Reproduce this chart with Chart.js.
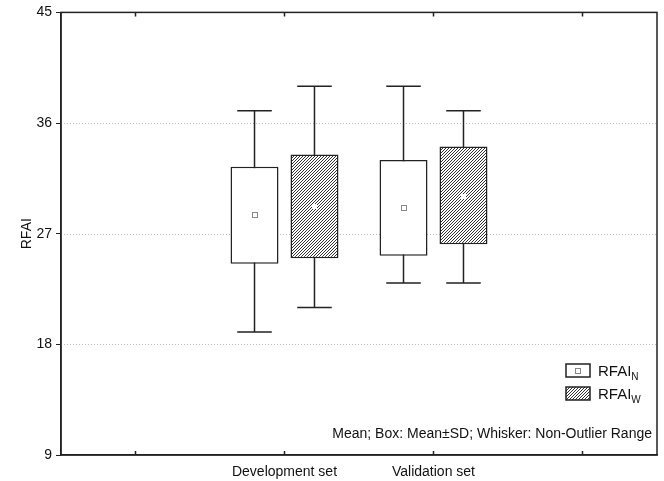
<!DOCTYPE html>
<html>
<head>
<meta charset="utf-8">
<script src="https://cdn.jsdelivr.net/npm/chart.js@4/dist/chart.umd.min.js"></script>
<style>
  body { margin: 0; background: #fff; }
  canvas { display: block; }
</style>
</head>
<body>
<canvas id="rfaiChart" width="664" height="481"></canvas>
<script>
// Data
const categories = ['', 'Development set', 'Validation set', ''];
const yTicks = [9, 18, 27, 36, 45];

// RFAI_N
const meanN = [null, 28.5, 29.1, null];
const boxLowN = [null, 24.55, 25.2, null];
const boxHighN = [null, 32.45, 33.0, null];
const whiskMinN = [null, 19.0, 23.0, null];
const whiskMaxN = [null, 37.0, 39.0, null];

// RFAI_W
const meanW = [null, 29.25, 30.1, null];
const boxLowW = [null, 25.0, 26.15, null];
const boxHighW = [null, 33.45, 34.1, null];
const whiskMinW = [null, 21.0, 23.0, null];
const whiskMaxW = [null, 39.0, 37.0, null];

const lineColor = '#222';
const font = "'Liberation Sans', Arial, sans-serif";

// hatch pattern for the W boxes
function makeHatch() {
    const c = document.createElement('canvas');
    c.width = 3;
    c.height = 3;
    const g = c.getContext('2d');
    g.fillStyle = '#fff';
    g.fillRect(0, 0, 3, 3);
    g.strokeStyle = '#333';
    g.lineWidth = 1;
    g.beginPath();
    g.moveTo(0, 3); g.lineTo(3, 0);
    g.moveTo(-1, 1); g.lineTo(1, -1);
    g.moveTo(2, 4); g.lineTo(4, 2);
    g.stroke();
    return g.createPattern(c, 'repeat');
}
const hatch = makeHatch();

function floating(lows, highs) {
    return lows.map((v, i) => v == null ? null : [v, highs[i]]);
}

const series = [
    { mean: meanN, min: whiskMinN, max: whiskMaxN },
    { mean: meanW, min: whiskMinW, max: whiskMaxW }
];

// dotted grid, whiskers, mean markers, frame, ticks and legend
const boxPlotExtras = {
    id: 'boxPlotExtras',
    beforeDatasetsDraw(chart) {
        const ctx = chart.ctx;
        const y = chart.scales.y;
        const a = chart.chartArea;
        ctx.save();
        // dotted horizontal grid
        ctx.strokeStyle = '#bbb';
        ctx.lineWidth = 1;
        ctx.setLineDash([1, 2]);
        ctx.beginPath();
        yTicks.slice(1, -1).forEach(v => {
            const py = Math.round(y.getPixelForValue(v)) + 0.5;
            ctx.moveTo(a.left, py); ctx.lineTo(a.right, py);
        });
        ctx.stroke();
        ctx.setLineDash([]);

        ctx.strokeStyle = lineColor;
        ctx.lineWidth = 1.5;
        series.forEach((s, di) => {
            const meta = chart.getDatasetMeta(di);
            meta.data.forEach((bar, i) => {
                if (s.min[i] == null) return;
                const yMin = y.getPixelForValue(s.min[i]);
                const yMax = y.getPixelForValue(s.max[i]);
                const half = bar.width * 0.36;
                ctx.beginPath();
                ctx.moveTo(bar.x, yMin); ctx.lineTo(bar.x, yMax);
                ctx.moveTo(bar.x - half, yMin); ctx.lineTo(bar.x + half, yMin);
                ctx.moveTo(bar.x - half, yMax); ctx.lineTo(bar.x + half, yMax);
                ctx.stroke();
            });
        });
        ctx.restore();
    },
    afterDatasetsDraw(chart) {
        const ctx = chart.ctx;
        const y = chart.scales.y;
        ctx.save();
        series.forEach((s, di) => {
            const meta = chart.getDatasetMeta(di);
            meta.data.forEach((bar, i) => {
                if (s.mean[i] == null) return;
                const py = Math.round(y.getPixelForValue(s.mean[i]));
                const px = Math.round(bar.x);
                if (di === 0) {
                    ctx.fillStyle = '#fff';
                    ctx.strokeStyle = '#888';
                    ctx.lineWidth = 1;
                    ctx.fillRect(px - 3, py - 3, 6, 6);
                    ctx.strokeRect(px - 2.5, py - 2.5, 5, 5);
                } else {
                    ctx.fillStyle = '#fff';
                    ctx.fillRect(px - 2, py - 2, 5, 5);
                }
            });
        });
        ctx.restore();
    },
    afterDraw(chart) {
        const ctx = chart.ctx;
        const a = chart.chartArea;
        const x = chart.scales.x;
        ctx.save();
        // frame
        ctx.strokeStyle = lineColor;
        ctx.lineWidth = 1.5;
        ctx.strokeRect(a.left, a.top, a.right - a.left, a.bottom - a.top);
        // inward category ticks, top and bottom
        ctx.beginPath();
        categories.forEach((c, i) => {
            const px = x.getPixelForValue(i);
            ctx.moveTo(px, a.top); ctx.lineTo(px, a.top + 4);
            ctx.moveTo(px, a.bottom); ctx.lineTo(px, a.bottom - 4);
        });
        ctx.stroke();

        // legend
        const bx = a.right - 91;
        const rows = [
            { top: a.bottom - 91, fill: '#fff', sub: 'N', marker: true },
            { top: a.bottom - 68, fill: hatch, sub: 'W', marker: false }
        ];
        rows.forEach(r => {
            ctx.fillStyle = r.fill;
            ctx.fillRect(bx, r.top, 24, 13);
            ctx.strokeStyle = lineColor;
            ctx.lineWidth = 1.5;
            ctx.strokeRect(bx, r.top, 24, 13);
            if (r.marker) {
                ctx.strokeStyle = '#888';
                ctx.lineWidth = 1;
                ctx.strokeRect(bx + 9.5, r.top + 4.5, 5, 5);
            }
            ctx.fillStyle = '#111';
            ctx.textBaseline = 'alphabetic';
            ctx.textAlign = 'left';
            ctx.font = '15px ' + font;
            const base = r.top + 12;
            ctx.fillText('RFAI', bx + 32, base);
            const w = ctx.measureText('RFAI').width;
            ctx.font = '10px ' + font;
            ctx.fillText(r.sub, bx + 32 + w, base + 4);
        });
        ctx.font = '14px ' + font;
        ctx.textAlign = 'right';
        ctx.fillStyle = '#111';
        ctx.fillText('Mean; Box: Mean\u00b1SD; Whisker: Non-Outlier Range', a.right - 5, a.bottom - 17);
        ctx.restore();
    }
};

new Chart(document.getElementById('rfaiChart'), {
    type: 'bar',
    data: {
        labels: categories,
        datasets: [
            {
                label: 'RFAI_N',
                data: floating(boxLowN, boxHighN),
                backgroundColor: '#fff',
                borderColor: lineColor,
                borderWidth: 1.5,
                borderSkipped: false
            },
            {
                label: 'RFAI_W',
                data: floating(boxLowW, boxHighW),
                backgroundColor: hatch,
                borderColor: lineColor,
                borderWidth: 1.5,
                borderSkipped: false
            }
        ]
    },
    plugins: [boxPlotExtras],
    options: {
        responsive: false,
        devicePixelRatio: 1,
        animation: false,
        layout: { padding: { top: 12, right: 7, left: 0, bottom: 0 } },
        datasets: {
            bar: { categoryPercentage: 0.805, barPercentage: 0.8 }
        },
        plugins: {
            legend: { display: false },
            tooltip: { enabled: false }
        },
        scales: {
            x: {
                grid: { display: false },
                border: { color: lineColor, width: 1.5 },
                ticks: {
                    color: '#111',
                    font: { family: font, size: 14 },
                    padding: 1,
                    maxRotation: 0
                },
                afterFit(scale) { scale.height = 26; }
            },
            y: {
                min: 9,
                max: 45,
                afterBuildTicks(scale) {
                    scale.ticks = yTicks.map(v => ({ value: v }));
                },
                grid: {
                    drawOnChartArea: false,
                    tickColor: lineColor,
                    tickLength: 5,
                    lineWidth: 1
                },
                border: { color: lineColor, width: 1.5 },
                ticks: {
                    color: '#111',
                    font: { family: font, size: 14 },
                    padding: 4
                },
                title: {
                    display: true,
                    text: 'RFAI',
                    color: '#111',
                    font: { family: font, size: 14 },
                    padding: { top: 19, bottom: 0 }
                },
                afterFit(scale) { scale.width = 61; }
            }
        }
    }
});
</script>
</body>
</html>
